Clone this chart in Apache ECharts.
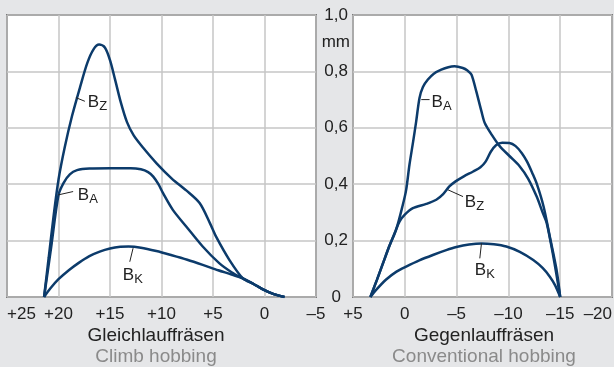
<!DOCTYPE html>
<html>
<head>
<meta charset="utf-8">
<script src="https://cdn.jsdelivr.net/npm/echarts@6/dist/echarts.min.js"></script>
<style>
  html, body { margin: 0; padding: 0; background: #e5e6e8; }
  #chart { width: 614px; height: 367px; }
</style>
</head>
<body>
<div id="chart"></div>
<script>
// Gleichlauffräsen (climb hobbing), x = position, y = chip thickness in mm
const climbX_BZ = [21.4, 20.95, 20.5, 20.0, 19.4, 18.7, 17.9, 17.2, 16.6, 16.06, 15.5, 15.0, 14.5, 13.95, 13.35, 12.7, 11.8, 10.5, 9.0, 7.6, 6.3, 5.3, 4.7, 3.4, 2.1, 1.1, 0.2, -0.9, -1.94]
const climbY_BZ = [0, 0.14, 0.28, 0.416, 0.53, 0.64, 0.745, 0.83, 0.878, 0.895, 0.885, 0.84, 0.77, 0.69, 0.62, 0.573, 0.53, 0.475, 0.42, 0.378, 0.333, 0.262, 0.214, 0.131, 0.066, 0.047, 0.028, 0.01, 0]
const climbX_BA = [21.4, 20.7, 20.0, 19.5, 18.9, 18.2, 17.0, 15.0, 13.0, 12.0, 11.3, 10.8, 10.3, 9.85, 8.9, 7.6, 6.0, 4.4, 3.2, 2.1, 1.1, 0.2, -0.9, -1.94]
const climbY_BA = [0, 0.18, 0.362, 0.405, 0.435, 0.45, 0.456, 0.457, 0.457, 0.453, 0.443, 0.427, 0.4, 0.368, 0.309, 0.25, 0.179, 0.12, 0.088, 0.066, 0.047, 0.028, 0.01, 0]
const climbX_BK = [21.4, 20.8, 20.0, 19.0, 18.0, 17.0, 16.0, 15.0, 14.0, 13.2, 12.0, 10.5, 9.0, 7.5, 6.0, 4.5, 3.2, 2.1, 1.1, 0.2, -0.9, -1.94]
const climbY_BK = [0, 0.03, 0.063, 0.095, 0.122, 0.145, 0.161, 0.172, 0.178, 0.179, 0.175, 0.163, 0.148, 0.132, 0.114, 0.095, 0.08, 0.066, 0.047, 0.028, 0.01, 0]

// Gegenlauffräsen (conventional hobbing)
const convX_BA = [3.32, 2.7, 2.1, 1.5, 0.84, 0.19, -0.13, -0.45, -0.8, -1.1, -1.42, -1.75, -2.23, -2.8, -3.52, -4.2, -4.8, -5.6, -6.05, -6.43, -6.9, -7.4, -7.72, -8.4, -9.18, -10.1, -11.1, -11.9, -12.73, -13.3, -13.7, -14.34, -15]
const convY_BA = [0, 0.06, 0.12, 0.18, 0.238, 0.327, 0.38, 0.469, 0.55, 0.623, 0.706, 0.745, 0.771, 0.792, 0.806, 0.815, 0.818, 0.812, 0.803, 0.789, 0.729, 0.658, 0.617, 0.575, 0.534, 0.5, 0.463, 0.42, 0.356, 0.3, 0.262, 0.143, 0]
const convX_BZ = [3.32, 2.7, 2.1, 1.5, 1.0, 0.5, 0.0, -0.78, -2.07, -3.04, -3.7, -4.3, -4.9, -5.7, -6.6, -7.3, -7.8, -8.3, -8.8, -9.4, -10.1, -10.7, -11.3, -11.8, -12.3, -12.75, -13.4, -14.0, -14.65, -15]
const convY_BZ = [0, 0.06, 0.12, 0.18, 0.225, 0.268, 0.292, 0.315, 0.33, 0.345, 0.365, 0.392, 0.41, 0.428, 0.445, 0.46, 0.48, 0.515, 0.538, 0.547, 0.546, 0.535, 0.51, 0.48, 0.44, 0.4, 0.32, 0.214, 0.096, 0]
const convX_BK = [3.32, 2.77, 1.8, 0.8, -0.13, -1.4, -2.71, -4.0, -4.98, -6.2, -7.4, -8.6, -9.8, -11.1, -12.4, -13.3, -14.0, -14.5, -15]
const convY_BK = [0, 0.025, 0.062, 0.09, 0.108, 0.13, 0.149, 0.166, 0.177, 0.186, 0.19, 0.187, 0.179, 0.16, 0.131, 0.103, 0.072, 0.042, 0]

const yTicks = ['0', '0,2', '0,4', '0,6', '0,8', '1,0']

const lineColor = '#0c3b6b'
const textColor = '#222'
const font = 'Liberation Sans, Arial, sans-serif'

const pairs = (xs, ys) => xs.map((x, i) => [x, ys[i]])

const fmtX = v => v > 0 ? '+' + v : v < 0 ? '\u2013' + (-v) : '0'

const curve = (idx, xs, ys) => ({
    type: 'line',
    xAxisIndex: idx,
    yAxisIndex: idx,
    data: pairs(xs, ys),
    smooth: 0.3,
    showSymbol: false,
    silent: true,
    lineStyle: { color: lineColor, width: 2.5 },
    z: 3
})

const xAxis = (idx, min, max, edge) => ({
    type: 'value',
    gridIndex: idx,
    min: min,
    max: max,
    interval: 5,
    inverse: true,
    axisLine: { show: false },
    axisTick: { show: false },
    axisLabel: Object.assign({
        color: textColor, fontSize: 17, margin: 9, fontFamily: font,
        showMinLabel: true, showMaxLabel: true,
        formatter: fmtX
    }, edge),
    splitLine: { lineStyle: { color: '#c6c6c6', width: 1.5 } }
})

const yAxis = (idx, labels) => ({
    type: 'value',
    gridIndex: idx,
    min: 0,
    max: 1,
    interval: 0.2,
    axisLine: { show: false },
    axisTick: { show: false },
    axisLabel: {
        show: labels,
        color: textColor, fontSize: 17, margin: 5, fontFamily: font,
        formatter: v => v === 0 ? '{z|0}' : yTicks[Math.round(v / 0.2)],
        rich: { z: { color: textColor, fontSize: 17, fontFamily: font, padding: [0, 7, 0, 0] } }
    },
    splitLine: { lineStyle: { color: '#c6c6c6', width: 1.5 } }
})

const gridStyle = {
    show: true, backgroundColor: '#fff', borderColor: '#2a2a2a', borderWidth: 1.5,
    top: 15, bottom: 70, containLabel: false, outerBoundsMode: 'none'
}

const chart = echarts.init(document.getElementById('chart'))

chart.setOption({
    backgroundColor: '#e5e6e8',
    animation: false,
    grid: [
        Object.assign({ left: 7, right: 298 }, gridStyle),
        Object.assign({ left: 353, right: 2 }, gridStyle)
    ],
    xAxis: [
        xAxis(0, -5, 25, { alignMaxLabel: 'left' }),
        xAxis(1, -20, 5, { alignMinLabel: 'right' })
    ],
    yAxis: [yAxis(0, false), yAxis(1, true)],
    series: [
        curve(0, climbX_BZ, climbY_BZ),
        curve(0, climbX_BA, climbY_BA),
        curve(0, climbX_BK, climbY_BK),
        curve(1, convX_BA, convY_BA),
        curve(1, convX_BZ, convY_BZ),
        curve(1, convX_BK, convY_BK)
    ]
})

// curve names: leader line and text anchor, both in data coords
const curveLabels = [
    { grid: 0, sub: 'Z', from: [18.31, 0.707], to: [17.44, 0.694], at: [17.15, 0.689] },
    { grid: 0, sub: 'A', from: [20.03, 0.362], to: [18.58, 0.374], at: [18.12, 0.36] },
    { grid: 0, sub: 'K', from: [12.76, 0.173], to: [13.08, 0.125], at: [13.76, 0.078] },
    { grid: 1, sub: 'A', from: [-1.59, 0.70], to: [-2.39, 0.70], at: [-2.57, 0.689] },
    { grid: 1, sub: 'Z', from: [-4.17, 0.38], to: [-5.62, 0.356], at: [-5.78, 0.334] },
    { grid: 1, sub: 'K', from: [-7.4, 0.19], to: [-7.24, 0.137], at: [-6.75, 0.096] }
]

const graphic = []
curveLabels.forEach(l => {
    const p1 = chart.convertToPixel({ gridIndex: l.grid }, l.from)
    const p2 = chart.convertToPixel({ gridIndex: l.grid }, l.to)
    const t = chart.convertToPixel({ gridIndex: l.grid }, l.at)
    graphic.push({
        type: 'line', z: 10,
        shape: { x1: p1[0], y1: p1[1], x2: p2[0], y2: p2[1] },
        style: { stroke: textColor, lineWidth: 1 }
    })
    graphic.push({
        type: 'text', z: 10, x: t[0], y: t[1],
        style: { text: 'B', font: '17px ' + font, fill: textColor, textAlign: 'left', textVerticalAlign: 'middle' }
    })
    graphic.push({
        type: 'text', z: 10, x: t[0] + 11.5, y: t[1] + 4,
        style: { text: l.sub, font: '13px ' + font, fill: textColor, textAlign: 'left', textVerticalAlign: 'middle' }
    })
})

// unit and panel captions
const captions = [
    { text: 'mm', x: 350, y: 42, size: 17, align: 'right', color: textColor },
    { text: 'Gleichlauffräsen', x: 156, y: 336, size: 19, align: 'center', color: textColor },
    { text: 'Climb hobbing', x: 156, y: 357, size: 19, align: 'center', color: '#8a8a8a' },
    { text: 'Gegenlauffräsen', x: 484, y: 336, size: 19, align: 'center', color: textColor },
    { text: 'Conventional hobbing', x: 484, y: 357, size: 19, align: 'center', color: '#8a8a8a' }
]
captions.forEach(c => {
    graphic.push({
        type: 'text', z: 10, x: c.x, y: c.y,
        style: { text: c.text, font: c.size + 'px ' + font, fill: c.color, textAlign: c.align, textVerticalAlign: 'middle' }
    })
})

chart.setOption({ graphic: graphic })
</script>
</body>
</html>
